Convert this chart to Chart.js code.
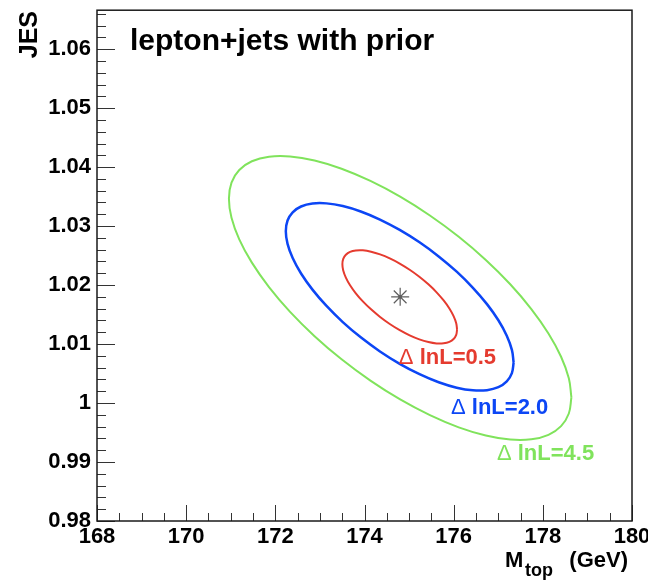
<!DOCTYPE html>
<html>
<head>
<meta charset="utf-8">
<script src="https://cdn.jsdelivr.net/npm/chart.js@4/dist/chart.umd.min.js"></script>
<style>
  html, body { margin: 0; padding: 0; background: #ffffff; }
  #wrap { width: 648px; height: 580px; }
</style>
</head>
<body>
<div id="wrap"><canvas id="c" width="648" height="580"></canvas></div>
<script>
// Likelihood contours in the (M_top, JES) plane, lepton+jets with prior.
const xTickValues = [168, 170, 172, 174, 176, 178, 180];
const xTickLabels = ['168', '170', '172', '174', '176', '178', '180'];
const yTickValues = [0.98, 0.99, 1.00, 1.01, 1.02, 1.03, 1.04, 1.05, 1.06];
const yTickLabels = ['0.98', '0.99', '1', '1.01', '1.02', '1.03', '1.04', '1.05', '1.06'];

// contour points [M_top (GeV), JES]
const contourDlnL05 = [
  [176.076, 1.01246], [176.057, 1.01157], [175.998, 1.01086], [175.904, 1.01038],
  [175.775, 1.01013], [175.617, 1.01011], [175.433, 1.01034], [175.230, 1.01080],
  [175.013, 1.01148], [174.790, 1.01235], [174.567, 1.01340], [174.350, 1.01459],
  [174.147, 1.01588], [173.963, 1.01723], [173.805, 1.01861], [173.676, 1.01997],
  [173.582, 1.02127], [173.523, 1.02247], [173.504, 1.02354], [173.523, 1.02444],
  [173.582, 1.02514], [173.676, 1.02562], [173.805, 1.02587], [173.963, 1.02589],
  [174.147, 1.02566], [174.350, 1.02520], [174.567, 1.02452], [174.790, 1.02365],
  [175.013, 1.02260], [175.230, 1.02141], [175.433, 1.02012], [175.617, 1.01877],
  [175.775, 1.01739], [175.904, 1.01603], [175.998, 1.01473], [176.057, 1.01353]
];
const contourDlnL20 = [
  [177.345, 1.00687], [177.306, 1.00507], [177.191, 1.00366], [177.003, 1.00268],
  [176.747, 1.00218], [176.432, 1.00215], [176.068, 1.00260], [175.664, 1.00352],
  [175.234, 1.00489], [174.790, 1.00665], [174.347, 1.00875], [173.916, 1.01114],
  [173.513, 1.01373], [173.148, 1.01646], [172.833, 1.01923], [172.577, 1.02196],
  [172.389, 1.02458], [172.274, 1.02699], [172.235, 1.02913], [172.274, 1.03094],
  [172.389, 1.03234], [172.577, 1.03332], [172.833, 1.03383], [173.148, 1.03385],
  [173.513, 1.03340], [173.916, 1.03248], [174.347, 1.03111], [174.790, 1.02935],
  [175.234, 1.02725], [175.664, 1.02486], [176.068, 1.02227], [176.432, 1.01954],
  [176.747, 1.01677], [177.003, 1.01404], [177.191, 1.01142], [177.306, 1.00901]
];
const contourDlnL45 = [
  [178.641, 1.00095], [178.583, 0.99822], [178.409, 0.99609], [178.126, 0.99461],
  [177.742, 0.99384], [177.269, 0.99380], [176.721, 0.99449], [176.114, 0.99588],
  [175.467, 0.99795], [174.800, 1.00061], [174.133, 1.00380], [173.486, 1.00741],
  [172.880, 1.01134], [172.331, 1.01546], [171.858, 1.01966], [171.474, 1.02380],
  [171.191, 1.02776], [171.017, 1.03141], [170.959, 1.03465], [171.017, 1.03738],
  [171.191, 1.03951], [171.474, 1.04099], [171.858, 1.04176], [172.331, 1.04180],
  [172.880, 1.04111], [173.486, 1.03972], [174.133, 1.03765], [174.800, 1.03499],
  [175.467, 1.03180], [176.114, 1.02819], [176.721, 1.02426], [177.269, 1.02014],
  [177.742, 1.01594], [178.126, 1.01180], [178.409, 1.00785], [178.583, 1.00419]
];
const bestFit = [[174.8, 1.018]];

const contourLabels = ['\u0394', ' lnL=0.5', ' lnL=2.0', ' lnL=4.5'];

const RED = '#e53b2f';
const BLUE = '#0c46f5';
const GREEN = '#80e35c';
const FONT = '"Liberation Sans", Arial, Helvetica, sans-serif';

function toPoints(arr, close) {
  const pts = arr.map(p => ({ x: p[0], y: p[1] }));
  if (close) pts.push({ x: arr[0][0], y: arr[0][1] });
  return pts;
}

function contourSet(arr, color, width) {
  return {
    data: toPoints(arr, true),
    showLine: true,
    fill: false,
    borderColor: color,
    borderWidth: width,
    pointRadius: 0,
    pointHoverRadius: 0,
    tension: 0.4
  };
}

// frame, inward ticks, titles and contour annotations
const framePlugin = {
  id: 'frame',
  afterDraw(chart) {
    const ctx = chart.ctx;
    const a = chart.chartArea;
    const xs = chart.scales.x, ys = chart.scales.y;
    ctx.save();

    // ticks (inside the frame)
    ctx.strokeStyle = '#333';
    ctx.lineWidth = 1;
    ctx.beginPath();
    for (let i = 0; i <= 24; i++) {
      const v = 168 + i * 0.5;
      const px = Math.round(xs.getPixelForValue(v)) + 0.5;
      const len = (i % 4 === 0) ? 16 : 8;
      ctx.moveTo(px, a.bottom);
      ctx.lineTo(px, a.bottom - len);
    }
    for (let i = 0; i <= 43; i++) {
      const v = 0.98 + i * 0.002;
      if (v > ys.max) break;
      const py = Math.round(ys.getPixelForValue(v)) + 0.5;
      const len = (i % 5 === 0) ? 18 : 9;
      ctx.moveTo(a.left, py);
      ctx.lineTo(a.left + len, py);
    }
    ctx.stroke();

    // frame
    ctx.strokeStyle = '#1a1a1a';
    ctx.lineWidth = 1.5;
    ctx.strokeRect(a.left, a.top, a.right - a.left, a.bottom - a.top);

    // title inside the frame
    ctx.fillStyle = '#000';
    ctx.textBaseline = 'alphabetic';
    ctx.textAlign = 'left';
    ctx.font = 'bold 30px ' + FONT;
    ctx.fillText('lepton+jets with prior', 130, 50);

    // x axis title: M_top (GeV)
    const big = 'bold 22px ' + FONT;
    const small = 'bold 18px ' + FONT;
    ctx.font = big;
    ctx.fillText('M', 505, 567);
    ctx.font = small;
    ctx.fillText('top', 525, 576);
    ctx.font = big;
    ctx.textAlign = 'right';
    ctx.fillText('(GeV)', 628, 567);
    ctx.textAlign = 'left';

    // y axis title: JES, rotated, aligned to the top end
    ctx.save();
    ctx.translate(37, 11);
    ctx.rotate(-Math.PI / 2);
    ctx.textAlign = 'right';
    ctx.font = 'bold 25px ' + FONT;
    ctx.fillText('JES', 0, 0);
    ctx.restore();

    // contour annotations
    const notes = [
      { text: contourLabels[1], color: RED, x: 174.77, y: 1.0077 },
      { text: contourLabels[2], color: BLUE, x: 175.94, y: 0.9991 },
      { text: contourLabels[3], color: GREEN, x: 176.97, y: 0.9913 }
    ];
    ctx.textBaseline = 'middle';
    ctx.textAlign = 'left';
    notes.forEach(n => {
      const px = xs.getPixelForValue(n.x);
      const py = ys.getPixelForValue(n.y);
      ctx.fillStyle = n.color;
      ctx.font = '22px ' + FONT;
      ctx.fillText(contourLabels[0], px, py);
      const wd = ctx.measureText(contourLabels[0]).width;
      ctx.font = 'bold 22px ' + FONT;
      ctx.fillText(n.text, px + wd, py);
    });

    ctx.restore();
  }
};

function fixY(s) {
  s.width = 97;
  s.paddingTop = 0; s.paddingBottom = 0; s.paddingLeft = 0; s.paddingRight = 0;
}
function fixX(s) {
  s.height = 59;
  s.paddingTop = 0; s.paddingBottom = 0; s.paddingLeft = 0; s.paddingRight = 0;
}

new Chart(document.getElementById('c'), {
  type: 'scatter',
  data: {
    datasets: [
      contourSet(contourDlnL45, GREEN, 2),
      contourSet(contourDlnL20, BLUE, 2.5),
      contourSet(contourDlnL05, RED, 2),
      {
        data: toPoints(bestFit, false),
        pointStyle: 'star',
        pointRadius: 9,
        pointBorderColor: '#5e5e5e',
        pointBackgroundColor: 'rgba(0,0,0,0)',
        pointBorderWidth: 1.2,
        pointHoverRadius: 9
      },
      {
        data: toPoints(bestFit, false),
        pointStyle: 'circle',
        pointRadius: 1.6,
        pointBorderWidth: 0,
        pointBackgroundColor: '#000',
        pointHoverRadius: 1.6
      }
    ]
  },
  options: {
    responsive: false,
    animation: false,
    devicePixelRatio: 1,
    events: [],
    layout: { padding: { top: 9, right: 16, left: 0, bottom: 0 } },
    plugins: {
      legend: { display: false },
      tooltip: { enabled: false },
      title: { display: false }
    },
    scales: {
      x: {
        type: 'linear',
        position: 'bottom',
        min: 168,
        max: 180,
        grid: { display: false, drawTicks: false },
        border: { display: false },
        afterBuildTicks: s => { s.ticks = xTickValues.map(v => ({ value: v })); },
        afterFit: fixX,
        ticks: {
          autoSkip: false,
          maxRotation: 0,
          padding: 3,
          color: '#000',
          font: { family: FONT, size: 22, weight: 'bold' },
          callback: (v, i) => xTickLabels[i]
        }
      },
      y: {
        type: 'linear',
        position: 'left',
        min: 0.98,
        max: 1.0666,
        grid: { display: false, drawTicks: false },
        border: { display: false },
        afterBuildTicks: s => { s.ticks = yTickValues.map(v => ({ value: v })); },
        afterFit: fixY,
        ticks: {
          autoSkip: false,
          padding: 6,
          color: '#000',
          font: { family: FONT, size: 22, weight: 'bold' },
          callback: (v, i) => yTickLabels[i]
        }
      }
    }
  },
  plugins: [framePlugin]
});
</script>
</body>
</html>
